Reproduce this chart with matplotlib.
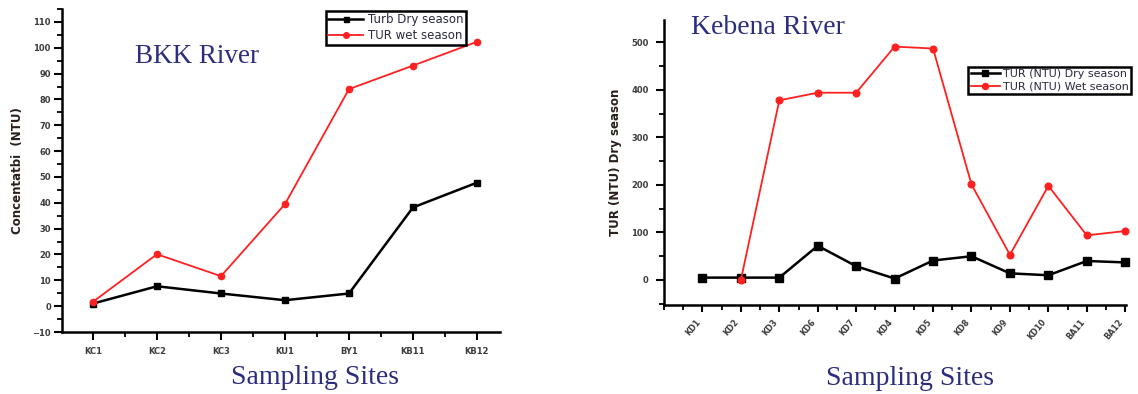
import matplotlib
matplotlib.use("Agg")
import matplotlib.pyplot as plt
from matplotlib.ticker import MultipleLocator, FixedLocator

# ---- data ----
bkk_sites = ["KC1", "KC2", "KC3", "KU1", "BY1", "KB11", "KB12"]
bkk_dry = [1.0, 7.7, 4.9, 2.3, 4.9, 38.2, 47.8]
bkk_wet = [1.7, 20.1, 11.6, 39.5, 84.0, 93.1, 102.3]

keb_sites = ["KD1", "KD2", "KD3", "KD6", "KD7", "KD4", "KD5", "KD8", "KD9", "KD10", "BA11", "BA12"]
keb_dry = [5, 5, 5, 72, 29, 3, 41, 50, 14, 10, 40, 37]
keb_wet_sites = keb_sites[1:]
keb_wet = [0, 378, 394, 394, 491, 487, 201, 53, 198, 94, 103]

W, H = 1138, 394
fig = plt.figure(figsize=(W / 100, H / 100), dpi=100)

NAVY = "#2b2d7e"
TICKC = "#3c3c3c"


def px_axes(l, t, r, b):
    return fig.add_axes([l / W, 1 - b / H, (r - l) / W, (b - t) / H])


def style_axes(ax):
    for s in ("top", "right"):
        ax.spines[s].set_visible(False)
    for s in ("left", "bottom"):
        ax.spines[s].set_linewidth(1.8)
        ax.spines[s].set_color("black")
    ax.tick_params(which="major", direction="out", length=6, width=1.5,
                   labelsize=6, labelcolor=TICKC, pad=2)
    ax.tick_params(which="minor", direction="out", length=3.5, width=1.3)
    for lab in ax.get_xticklabels() + ax.get_yticklabels():
        lab.set_fontweight("bold")


# ---- BKK River ----
ax1 = px_axes(62, 9, 500, 332)
x1 = list(range(len(bkk_sites)))
ax1.plot(x1, bkk_dry, color="black", lw=1.8, marker="s", ms=4, label="Turb Dry season")
ax1.plot(x1, bkk_wet, color="#ff2020", lw=1.3, marker="o", ms=4.5, label="TUR wet season")
ax1.set_xlim(-0.484, 6.36)
ax1.set_ylim(-10, 115)
ax1.xaxis.set_major_locator(FixedLocator(x1))
ax1.xaxis.set_minor_locator(MultipleLocator(0.5))
ax1.set_xticklabels(bkk_sites)
ax1.yaxis.set_major_locator(MultipleLocator(10))
ax1.yaxis.set_minor_locator(MultipleLocator(5))
style_axes(ax1)
ax1.tick_params(axis="x", which="major", pad=5)
ax1.set_ylabel("Concentatbi  (NTU)", fontsize=8.5, fontweight="bold",
               color="#2a1f1a", labelpad=6)

leg1 = ax1.legend(loc="upper right", bbox_to_anchor=(466 / W, 1 - 11 / H),
                  bbox_transform=fig.transFigure, fancybox=False, framealpha=1,
                  edgecolor="black", fontsize=8.5, handlelength=3.0,
                  borderpad=0.2, labelspacing=0.25, handletextpad=0.4,
                  borderaxespad=0, markerscale=0.9)
leg1.get_frame().set_linewidth(1.8)
for t in leg1.get_texts():
    t.set_color("#2a2a40")

fig.text(135 / W, 1 - 63 / H, "BKK River", fontsize=19.5, family="Liberation Serif",
         color=NAVY, ha="left", va="baseline")
fig.text(315 / W, 1 - 384 / H, "Sampling Sites", fontsize=20, family="Liberation Serif",
         color=NAVY, ha="center", va="baseline")

# ---- Kebena River ----
ax2 = px_axes(664, 20, 1126, 305)
x2 = list(range(len(keb_sites)))
x2_wet = [keb_sites.index(s) for s in keb_wet_sites]
ax2.plot(x2, keb_dry, color="black", lw=1.8, marker="s", ms=5.2,
         label="TUR (NTU) Dry season", clip_on=False)
ax2.plot(x2_wet, keb_wet, color="#ff2020", lw=1.3, marker="o", ms=4.8,
         label="TUR (NTU) Wet season", clip_on=False)
ax2.set_xlim(-1.0, 11.02)
ax2.set_ylim(-52.6, 547)
ax2.xaxis.set_major_locator(FixedLocator(x2))
ax2.xaxis.set_minor_locator(MultipleLocator(0.5))
ax2.set_xticklabels(keb_sites)
ax2.yaxis.set_major_locator(MultipleLocator(100))
ax2.yaxis.set_minor_locator(MultipleLocator(50))
style_axes(ax2)
ax2.tick_params(axis="x", which="major", length=5, pad=4)
ax2.tick_params(axis="y", which="major", pad=5)
for lab in ax2.get_xticklabels():
    lab.set_rotation(50)
    lab.set_ha("right")
    lab.set_va("top")
    lab.set_fontsize(5.8)
ax2.set_ylabel("TUR (NTU) Dry season", fontsize=8.5, fontweight="bold",
               color="#2a1f1a", labelpad=7)

leg2 = ax2.legend(loc="upper right", bbox_to_anchor=(1131 / W, 1 - 67 / H),
                  bbox_transform=fig.transFigure, fancybox=False, framealpha=1,
                  edgecolor="black", fontsize=8, handlelength=2.6,
                  borderpad=0.2, labelspacing=0.2, handletextpad=0.3,
                  borderaxespad=0, markerscale=0.9)
leg2.get_frame().set_linewidth(1.8)
for t in leg2.get_texts():
    t.set_color("#2a2a40")

fig.text(691 / W, 1 - 34 / H, "Kebena River", fontsize=20, family="Liberation Serif",
         color=NAVY, ha="left", va="baseline")
fig.text(910 / W, 1 - 385 / H, "Sampling Sites", fontsize=20, family="Liberation Serif",
         color=NAVY, ha="center", va="baseline")

fig.savefig("out.png", dpi=100)
